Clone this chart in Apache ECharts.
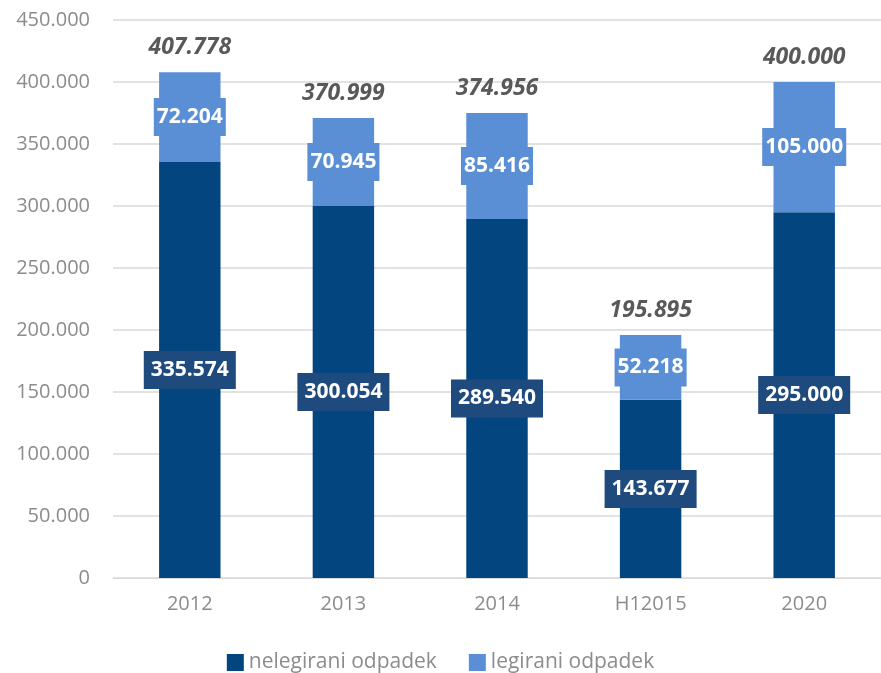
<!DOCTYPE html>
<html><head><meta charset="utf-8">
<script src="https://cdn.jsdelivr.net/npm/echarts@6/dist/echarts.min.js"></script>
<style>html,body{margin:0;padding:0;background:#fff}#c{width:881px;height:673px}</style>
</head><body><div id="c"></div>
<script>
const categories = ['2012', '2013', '2014', 'H12015', '2020'];
const nelegirani = [335574, 300054, 289540, 143677, 295000];
const legirani = [72204, 70945, 85416, 52218, 105000];
const totals = [407778, 370999, 374956, 195895, 400000];
const seriesNames = ['nelegirani odpadek', 'legirani odpadek'];

function fmt(v) {
  return String(v).replace(/\B(?=(\d{3})+(?!\d))/g, '.');
}
const FONT = '"Open Sans", sans-serif';
const chart = echarts.init(document.getElementById('c'));
chart.setOption({
  animation: false,
  grid: { left: 113, width: 775, top: 20, bottom: 95 },
  legend: {
    data: seriesNames,
    bottom: -5, left: 'center',
    itemWidth: 17, itemHeight: 17, itemGap: 32,
    icon: 'rect',
    textStyle: { fontFamily: FONT, fontSize: 21, color: '#8c8c8c' }
  },
  xAxis: {
    type: 'category', data: categories,
    axisLine: { show: true, lineStyle: { color: '#d9d9d9', width: 1 } },
    axisTick: { show: false },
    axisLabel: { fontFamily: FONT, fontSize: 20, color: '#8c8c8c', margin: 16 }
  },
  yAxis: {
    type: 'value', min: 0, max: 450000, interval: 50000,
    axisLine: { show: false }, axisTick: { show: false },
    splitLine: { lineStyle: { color: '#d9d9d9', width: 1.5 } },
    axisLabel: { fontFamily: FONT, fontSize: 20, color: '#8c8c8c', margin: 23, formatter: v => fmt(v) }
  },
  series: [
    {
      name: seriesNames[0], type: 'bar', stack: 's', data: nelegirani, barWidth: '40%',
      itemStyle: { color: '#02457f' },
      label: {
        show: true, position: 'inside', formatter: p => fmt(p.value),
        fontFamily: FONT, fontWeight: 'bold', fontSize: 21, color: '#fff', lineHeight: 26,
        backgroundColor: '#1f4a7e', padding: [6, 7, 6, 7]
      }
    },
    {
      name: seriesNames[1], type: 'bar', stack: 's', data: legirani, barWidth: '40%',
      itemStyle: { color: '#5a8fd6' },
      label: {
        show: true, position: 'inside', formatter: p => fmt(p.value),
        fontFamily: FONT, fontWeight: 'bold', fontSize: 21, color: '#fff', lineHeight: 26,
        backgroundColor: '#5a8fd6', padding: [6, 3, 6, 3]
      }
    },
    {
      name: 'total', type: 'bar', stack: 's', data: totals.map(() => 0), barWidth: '40%',
      itemStyle: { color: 'rgba(0,0,0,0)' },
      label: {
        show: true, position: 'top', distance: 13,
        formatter: p => fmt(totals[p.dataIndex]),
        fontFamily: FONT, fontWeight: 'bold', fontStyle: 'italic', fontSize: 23, color: '#595959'
      }
    }
  ]
});
</script></body></html>
